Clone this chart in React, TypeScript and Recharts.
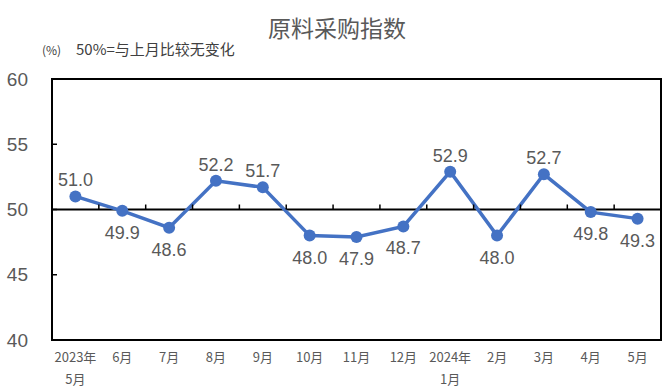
import { Line, LineChart, ReferenceLine, XAxis, YAxis } from "recharts";

const months = [
  "2023年\n5月", "6月", "7月", "8月", "9月", "10月", "11月",
  "12月", "2024年\n1月", "2月", "3月", "4月", "5月",
];
const purchaseIndex = [51.0, 49.9, 48.6, 52.2, 51.7, 48.0, 47.9, 48.7, 52.9, 48.0, 52.7, 49.8, 49.3];
const labelSide = ["up", "down", "down", "up", "up", "down", "down", "down", "up", "down", "up", "down", "down"];
const yTicks = [40, 45, 50, 55, 60];

const data = months.map((m, i) => ({ month: m, value: purchaseIndex[i] }));

const W = 668;
const H = 391;
const M = { top: 79, right: 7, bottom: 0, left: 0 };
const Y_W = 52;
const X_H = 51;
const PLOT_W = W - M.left - Y_W - M.right;
const PLOT_H = H - M.top - X_H;
const MID_Y = M.top + PLOT_H / 2;
const BAND = PLOT_W / months.length;

const BLUE = "#4472C4";
const GREY = "#595959";
const NUM_FONT = "'Liberation Sans', Arial, sans-serif";
const CJK_FONT = "'Noto Sans CJK SC', 'Liberation Sans', sans-serif";

function YTick(props: any) {
  const { y, payload } = props;
  return (
    <g>
      <text x={28} y={y} textAnchor="end" dominantBaseline="central" fontSize={19} fill={GREY} fontFamily={NUM_FONT}>
        {payload.value}
      </text>
      <line x1={Y_W} x2={Y_W + 5} y1={y} y2={y} stroke="#000" strokeWidth={1.5} />
    </g>
  );
}

function XTick(props: any) {
  const { x, y, payload, index } = props;
  const lines = String(payload.value).split("\n");
  return (
    <g>
      {index > 0 && (
        <line x1={x - BAND / 2} x2={x - BAND / 2} y1={MID_Y} y2={MID_Y - 5} stroke="#000" strokeWidth={1.5} />
      )}
      <text x={x} y={y + 14} textAnchor="middle" fontSize={13} fill={GREY} fontFamily={CJK_FONT}>
        {lines.map((l, i) => (
          <tspan key={i} x={x} dy={i === 0 ? 0 : 22}>
            {l}
          </tspan>
        ))}
      </text>
    </g>
  );
}

function PointLabel(props: any) {
  const { x, y, value, index } = props;
  const up = labelSide[index] === "up";
  return (
    <text
      x={x}
      y={up ? y - 16 : y + 22}
      textAnchor="middle"
      dominantBaseline="central"
      fontSize={18}
      fill={GREY}
      fontFamily={NUM_FONT}
    >
      {Number(value).toFixed(1)}
    </text>
  );
}

export default function App() {
  return (
    <div style={{ position: "absolute", left: 0, top: 0, width: W, height: H, background: "#fff", overflow: "hidden" }}>
      <div
        style={{
          position: "absolute",
          left: 0,
          width: W,
          top: 12,
          textAlign: "center",
          fontSize: 23,
          color: GREY,
          fontFamily: CJK_FONT,
          lineHeight: "30px",
          paddingLeft: 6,
          boxSizing: "border-box",
        }}
      >
        原料采购指数
      </div>
      <div
        style={{
          position: "absolute",
          left: 42,
          top: 41,
          fontSize: 12,
          color: "#404040",
          fontFamily: CJK_FONT,
          lineHeight: "18px",
        }}
      >
        (%)
      </div>
      <div
        style={{
          position: "absolute",
          left: 76,
          top: 39,
          fontSize: 15,
          color: "#404040",
          fontFamily: CJK_FONT,
          lineHeight: "20px",
          whiteSpace: "pre",
        }}
      >
        50%=与上月比较无变化
      </div>
      <div
        style={{
          position: "absolute",
          left: Y_W - 1,
          top: M.top - 1,
          width: PLOT_W + 2,
          height: PLOT_H + 2,
          border: "2px solid #000",
          boxSizing: "border-box",
          pointerEvents: "none",
        }}
      />
      <div style={{ position: "absolute", left: 0, top: 0 }}>
        <LineChart width={W} height={H} data={data} margin={M}>
          <XAxis
            dataKey="month"
            height={X_H}
            axisLine={false}
            tickLine={false}
            interval={0}
            padding={{ left: BAND / 2, right: BAND / 2 }}
            tick={<XTick />}
          />
          <YAxis
            domain={[40, 60]}
            ticks={yTicks}
            width={Y_W}
            axisLine={false}
            tickLine={false}
            tick={<YTick />}
          />
          <ReferenceLine y={50} stroke="#000" strokeWidth={2} />
          <Line
            type="linear"
            dataKey="value"
            stroke={BLUE}
            strokeWidth={3.5}
            dot={{ r: 6, fill: BLUE, stroke: BLUE, strokeWidth: 0 }}
            activeDot={false}
            label={<PointLabel />}
            isAnimationActive={false}
          />
        </LineChart>
      </div>
    </div>
  );
}
